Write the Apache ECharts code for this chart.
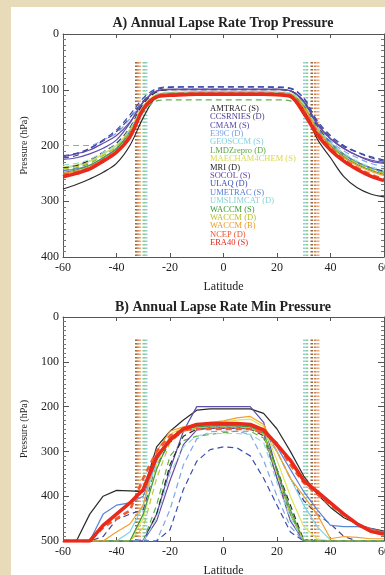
<!DOCTYPE html>
<html>
<head>
<meta charset="utf-8">
<script src="https://cdn.jsdelivr.net/npm/echarts@6/dist/echarts.min.js"></script>
<style>
  html, body { margin: 0; padding: 0; background: #e8dbb9; }
  #chart { width: 385px; height: 575px; }
</style>
</head>
<body>
<div id="chart"></div>
<script>
// Latitude grid shared by every model curve
const lat = [-60,-55,-50,-45,-40,-35,-30,-25,-20,-15,-10,-5,0,5,10,15,20,25,30,35,40,45,50,55,60];

// Model / reanalysis names shown in the legend
const modelNames = ['AMTRAC (S)','CCSRNIES (D)','CMAM (S)','E39C (D)','GEOSCCM (S)','LMDZrepro (D)',
  'MAECHAM4CHEM (S)','MRI (D)','SOCOL (S)','ULAQ (D)','UMETRAC (S)','UMSLIMCAT (D)',
  'WACCM (S)','WACCM (D)','WACCM (B)','NCEP (D)','ERA40 (S)'];

// Panel A: annual lapse-rate tropopause pressure (hPa)
const tropAmtrac    = [278,270,260,248,232,200,150,112,106,105,104,104,104,104,104,104,105,108,135,188,222,256,276,287,292];
const tropCcsrnies  = [222,218,205,192,175,150,120,100,96,95,95,95,95,95,95,95,96,98,115,158,185,202,212,220,226];
const tropCmam      = [225,222,215,205,190,160,122,103,100,100,100,100,100,100,100,100,100,102,120,160,188,205,218,228,232];
const tropE39c      = [200,200,200,190,178,152,122,104,100,99,99,99,99,99,99,99,99,102,125,165,192,210,222,232,238];
const tropGeosccm   = [240,236,228,215,200,172,130,110,105,105,105,105,105,105,105,105,105,108,128,168,195,215,230,240,246];
const tropLmdz      = [245,240,232,218,202,175,140,120,118,118,118,118,118,118,118,118,118,120,135,170,198,218,232,242,250];
const tropMaecham   = [238,235,228,215,200,170,128,108,105,104,104,104,104,104,104,104,104,106,125,165,195,215,230,240,248];
const tropMri       = [240,236,226,212,196,168,125,104,100,100,100,100,100,100,100,100,100,102,122,165,195,216,230,240,246];
const tropSocol     = [220,215,208,196,182,158,122,102,99,99,99,99,99,99,99,99,99,102,122,162,188,206,218,226,230];
const tropUlaq      = [218,214,205,190,172,145,115,98,95,95,95,95,95,95,95,95,95,97,115,155,182,200,212,222,228];
const tropUmetrac   = [245,242,235,222,205,175,132,110,106,106,106,106,106,106,106,106,106,108,128,168,196,216,230,240,248];
const tropUmslimcat = [235,232,225,212,198,170,130,108,104,104,104,104,104,104,104,104,104,106,126,168,196,214,228,238,244];
const tropWaccmS    = [248,244,236,222,206,178,135,112,108,108,108,108,108,108,108,108,108,110,130,172,200,220,234,244,252];
const tropWaccmD    = [242,238,230,218,202,174,132,110,106,106,106,106,106,106,106,106,106,108,128,170,198,218,232,242,250];
const tropWaccmB    = [250,246,238,225,210,180,135,112,108,108,108,108,108,108,108,108,108,110,132,172,202,222,236,246,254];
const tropNcep      = [252,248,240,226,210,182,134,112,108,107,107,107,107,107,107,107,107,110,138,175,204,225,240,252,260];
const tropEra40     = [256,250,242,228,212,185,135,113,110,109,108,108,108,108,108,108,109,112,142,180,208,228,243,255,263];

// Panel B: annual lapse-rate minimum pressure (hPa)
const minAmtrac    = [500,500,440,400,387,388,390,290,255,230,208,205,205,205,205,215,250,300,355,395,425,448,462,472,478];
const minCcsrnies  = [500,500,500,490,452,440,430,330,280,255,248,245,245,245,245,255,300,360,410,440,462,490,500,500,500];
const minCmam      = [500,500,500,500,500,500,500,440,340,255,200,200,200,200,200,235,345,440,500,500,500,500,500,500,500];
const minE39c      = [500,500,500,500,500,500,500,500,430,330,272,256,255,255,262,320,400,468,500,500,500,500,500,500,500];
const minGeosccm   = [500,500,500,500,500,480,420,320,268,252,248,246,245,246,248,260,300,360,420,468,498,500,500,500,500];
const minLmdz      = [500,500,500,500,500,500,500,420,310,276,266,262,258,255,255,270,360,440,500,500,500,500,500,500,500];
const minMaecham   = [500,500,500,500,500,500,450,330,262,246,240,236,234,230,228,245,320,400,468,495,500,500,500,500,500];
const minMri       = [500,500,500,500,500,500,500,440,330,266,250,248,248,248,250,265,340,420,498,500,500,500,500,500,500];
const minSocol     = [500,500,500,500,500,500,500,455,365,285,252,248,248,248,250,260,360,455,500,500,500,500,500,500,500];
const minUlaq      = [500,500,500,500,500,500,500,500,475,385,322,296,290,292,310,360,420,480,500,500,500,500,500,500,500];
const minUmetrac   = [500,500,500,440,420,415,400,320,270,250,245,243,243,243,245,255,290,340,390,430,465,468,468,472,480];
const minUmslimcat = [500,500,500,500,500,500,500,450,350,290,265,260,260,260,262,280,370,450,500,500,500,500,500,500,500];
const minWaccmS    = [500,500,500,500,500,500,440,340,270,250,245,243,242,243,245,258,340,430,500,500,500,500,500,500,500];
const minWaccmD    = [500,500,500,500,500,500,470,360,280,255,248,246,245,246,248,262,350,440,500,500,500,500,500,500,500];
const minWaccmB    = [500,500,500,500,480,462,420,300,255,245,240,235,232,225,222,240,300,360,400,440,495,490,492,495,495];
const minNcep      = [500,500,500,470,450,432,360,300,265,252,250,250,250,250,250,258,282,330,370,395,420,442,462,475,482];
const minEra40     = [500,500,500,465,440,415,385,312,275,250,240,238,238,238,240,252,285,320,365,390,415,440,462,478,485];

// Latitudes of the tropical-edge markers (south and north)
const edgeLatSouth = [-32.6,-32.0,-31.3,-29.8,-28.9];
const edgeLatNorth = [30.2,31.2,33.0,34.3,35.4];
// Vertical extent of the markers in each panel (hPa)
const edgeTopP = 50;
const edgeBottomA = 400;
const edgeBottomB = 500;

const tropSeries = [tropAmtrac,tropCcsrnies,tropCmam,tropE39c,tropGeosccm,tropLmdz,tropMaecham,tropMri,
  tropSocol,tropUlaq,tropUmetrac,tropUmslimcat,tropWaccmS,tropWaccmD,tropWaccmB,tropNcep,tropEra40];
const minSeries = [minAmtrac,minCcsrnies,minCmam,minE39c,minGeosccm,minLmdz,minMaecham,minMri,
  minSocol,minUlaq,minUmetrac,minUmslimcat,minWaccmS,minWaccmD,minWaccmB,minNcep,minEra40];

// Line styling per model
const lineColors = ['#2b2b2b','#4b3f8f','#5b4fb0','#7fa6e6','#7fd3e6','#5fb04a','#e2e25e','#2b2b2b',
  '#6a4aa6','#3a4fb0','#5a86d6','#96dcdc','#3e9e3e','#bcc83a','#f0a030','#f25a30','#e82a1c'];
const legendColors = ['#1e1e1e','#4b3f8f','#5446a8','#7a9fe2','#7cd0e2','#5aa845','#d8d850','#1e1e1e',
  '#6246a0','#3a4fb0','#5680d2','#88d2d2','#3a983a','#b4c030','#ee9a28','#f0542c','#e62a1c'];
const dashed = modelNames.map(n => n.indexOf('(D)') >= 0);
const widths = modelNames.map(n => n === 'ERA40 (S)' ? 3.6 : (n === 'NCEP (D)' ? 2.6 : 1.2));
const edgeColorsSouth = ['#8b6b45','#d9804a','#e6a878','#8cc88c','#8cd0e0'];
const edgeColorsNorth = ['#8cd0e0','#8cc88c','#8b6b45','#d9804a','#e6a878'];

const serif = 'Liberation Serif';
const ink = '#222';
const frame = '#555';

function xAxes(gridIndex) {
  const common = {
    gridIndex, type: 'value', min: -60, max: 60, interval: 20,
    splitLine: { show: false },
    axisLine: { show: true, onZero: false, lineStyle: { color: frame, width: 1 } },
    axisTick: { show: true, inside: true, length: 4, lineStyle: { color: frame } }
  };
  return [
    Object.assign({}, common, {
      position: 'bottom', name: 'Latitude', nameLocation: 'middle', nameGap: 24,
      nameTextStyle: { fontFamily: serif, fontSize: 12, color: ink },
      axisLabel: { fontFamily: serif, fontSize: 12, color: ink, margin: 5, showMinLabel: true, showMaxLabel: true }
    }),
    Object.assign({}, common, { position: 'top', axisLabel: { show: false } })
  ];
}

function yAxes(gridIndex, maxP) {
  const common = {
    gridIndex, type: 'value', inverse: true, min: 0, max: maxP, interval: 100,
    splitLine: { show: false },
    axisLine: { show: true, onZero: false, lineStyle: { color: frame, width: 1 } },
    axisTick: { show: true, inside: true, length: 6, lineStyle: { color: frame } },
    minorTick: { show: true, splitNumber: 10, length: 3, lineStyle: { color: '#777' } }
  };
  return [
    Object.assign({}, common, {
      position: 'left', name: 'Pressure (hPa)', nameLocation: 'middle', nameGap: 34, nameRotate: 90,
      nameTextStyle: { fontFamily: serif, fontSize: 10, color: ink },
      axisLabel: { fontFamily: serif, fontSize: 12, color: ink, margin: 4, showMinLabel: true, showMaxLabel: true }
    }),
    Object.assign({}, common, { position: 'right', axisLabel: { show: false } })
  ];
}

function edgeSeries(xi, yi, lats, colors, bottomP) {
  return lats.map((la, i) => ({
    type: 'line', xAxisIndex: xi, yAxisIndex: yi, silent: true, symbol: 'none',
    data: [[la, edgeTopP], [la, bottomP]],
    lineStyle: { color: colors[i], width: 2.6, type: [1.5, 2] }, z: 1
  }));
}

function modelSeries(xi, yi, valuesList, smooth) {
  return valuesList.map((vals, i) => ({
    name: modelNames[i], type: 'line', xAxisIndex: xi, yAxisIndex: yi,
    symbol: 'none', smooth: smooth, clip: true,
    data: lat.map((la, k) => [la, vals[k]]),
    lineStyle: { color: lineColors[i], width: widths[i], type: dashed[i] ? [6, 4] : 'solid' },
    itemStyle: { color: lineColors[i] },
    z: 2 + i
  }));
}

const chart = echarts.init(document.getElementById('chart'), null, { renderer: 'canvas' });

chart.setOption({
  backgroundColor: '#e8dbb9',
  animation: false,
  graphic: [{
    type: 'rect', silent: true, z: -10,
    shape: { x: 11, y: 7, width: 374, height: 568 },
    style: { fill: '#ffffff' }
  }],
  title: [
    { text: 'A) Annual Lapse Rate Trop Pressure', left: 218, top: 11, textAlign: 'center',
      textStyle: { fontFamily: serif, fontWeight: 'bold', fontSize: 14, color: ink } },
    { text: 'B) Annual Lapse Rate Min Pressure', left: 218, top: 295, textAlign: 'center',
      textStyle: { fontFamily: serif, fontWeight: 'bold', fontSize: 14, color: ink } }
  ],
  legend: {
    orient: 'vertical', left: 205, top: 104, selectedMode: false,
    icon: 'rect', itemWidth: 0, itemHeight: 7, itemGap: -0.6, padding: 0,
    textStyle: { fontFamily: serif, fontSize: 8.5, lineHeight: 8 },
    data: modelNames.map((n, i) => ({ name: n, textStyle: { color: legendColors[i] } }))
  },
  grid: [
    { left: 63, top: 34, width: 321, height: 223, outerBoundsMode: 'none' },
    { left: 63, top: 317, width: 321, height: 224, outerBoundsMode: 'none' }
  ],
  xAxis: [...xAxes(0), ...xAxes(1)],
  yAxis: [...yAxes(0, 400), ...yAxes(1, 500)],
  series: [
    ...edgeSeries(0, 0, edgeLatSouth, edgeColorsSouth, edgeBottomA),
    ...edgeSeries(0, 0, edgeLatNorth, edgeColorsNorth, edgeBottomA),
    ...edgeSeries(2, 2, edgeLatSouth, edgeColorsSouth, edgeBottomB),
    ...edgeSeries(2, 2, edgeLatNorth, edgeColorsNorth, edgeBottomB),
    ...modelSeries(0, 0, tropSeries, 0.35),
    ...modelSeries(2, 2, minSeries, false)
  ]
});
</script>
</body>
</html>
